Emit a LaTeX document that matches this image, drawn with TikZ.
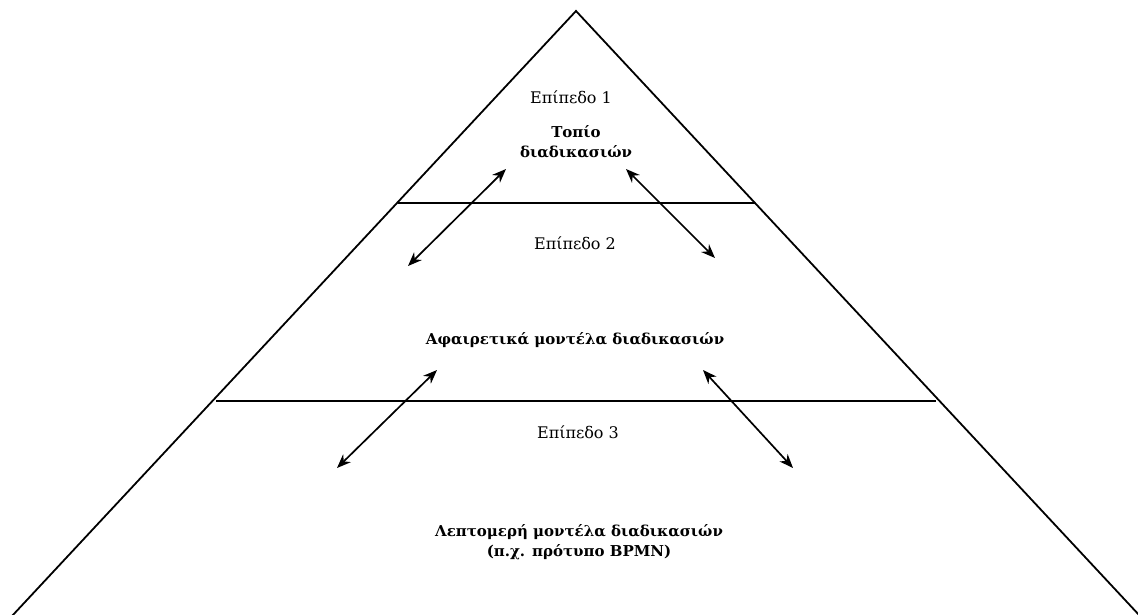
\documentclass[tikz,border=0pt]{standalone}
\usepackage{fontspec}
\setmainfont{DejaVu Serif}
\usetikzlibrary{arrows.meta}
\begin{document}
\begin{tikzpicture}[x=1pt,y=-1pt,
  edge/.style={line width=1.8pt},
  biarrow/.style={line width=1.7pt,{Stealth[length=14pt,width=11pt]}-{Stealth[length=14pt,width=11pt]}},
  lvl/.style={font=\fontsize{16}{19}\selectfont, inner sep=0pt},
  title/.style={font=\fontsize{15}{19.5}\selectfont\bfseries, inner sep=0pt, align=center}]
\useasboundingbox (0,0) rectangle (1138,614);
\coordinate (apex) at (576,11);
\coordinate (bl) at (12,616);
\coordinate (br) at (1140,616);
\draw[edge, line join=miter] (bl) -- (apex) -- (br);
\coordinate (l1a) at (398,203);
\coordinate (l1b) at (755,203);
\coordinate (l2a) at (216,401);
\coordinate (l2b) at (936,401);
\draw[edge] (l1a) -- (l1b);
\draw[edge] (l2a) -- (l2b);
\node[lvl] (e1) at (571,97) {Επίπεδο 1};
\node[title] (t1) at (576,142) {Τοπίο\\διαδικασιών};
\node[lvl] (e2) at (575,243) {Επίπεδο 2};
\node[title] (t2) at (575,340) {Αφαιρετικά μοντέλα διαδικασιών};
\node[lvl] (e3) at (578,432) {Επίπεδο 3};
\node[title] (t3) at (579,542) {Λεπτομερή μοντέλα διαδικασιών\\(π.χ. πρότυπο BPMN)};
\coordinate (a1s) at (408,266); \coordinate (a1e) at (506,169);
\coordinate (a2s) at (626,169); \coordinate (a2e) at (715,258);
\coordinate (a3s) at (337,468); \coordinate (a3e) at (437,370);
\coordinate (a4s) at (703,370); \coordinate (a4e) at (793,468);
\draw[biarrow] (a1s) -- (a1e);
\draw[biarrow] (a2s) -- (a2e);
\draw[biarrow] (a3s) -- (a3e);
\draw[biarrow] (a4s) -- (a4e);
\end{tikzpicture}
\end{document}
